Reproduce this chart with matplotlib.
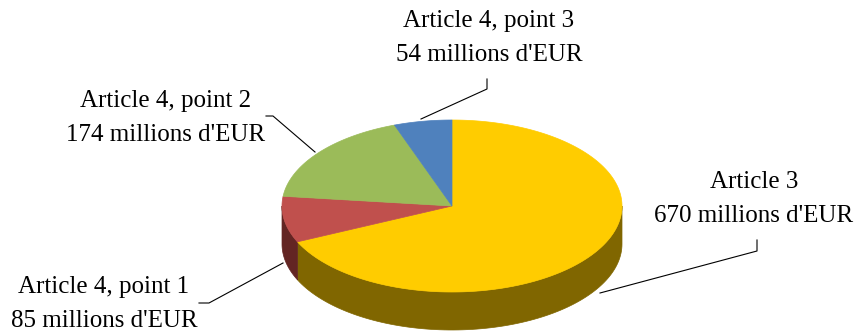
import numpy as np
import matplotlib
matplotlib.use("Agg")
import matplotlib.pyplot as plt
from matplotlib.patches import Polygon

# data
labels = ["Article 3", "Article 4, point 1", "Article 4, point 2", "Article 4, point 3"]
values = [670, 85, 174, 54]
unit = "millions d'EUR"
top_colors = ["#FFCC00", "#C0504D", "#9BBB59", "#4F81BD"]
side_colors = ["#806600", "#632523", "#4F6228", "#254061"]

# label placement (pixel coords, y down) and leader lines
label_pos = [(754, 199), (104, 304), (166, 118), (489, 38)]
leaders = [
    [(757, 240), (757, 251), (600, 293)],
    [(199, 303), (209, 303), (283, 263)],
    [(266, 116), (273, 116), (315, 152)],
    [(487, 79), (487, 89), (421, 119)],
]

# pie geometry in pixels
cx, cy = 452, 206
rx, ry = 170, 86
depth = 38

fig = plt.figure(figsize=(8.61, 3.32), dpi=100)
ax = fig.add_axes([0, 0, 1, 1])
ax.set_xlim(0, 861)
ax.set_ylim(332, 0)
ax.axis("off")


def pt(theta, dy=0):
    return cx + rx * np.cos(theta), cy - ry * np.sin(theta) + dy


# angles: start at 12 o'clock, go clockwise
fracs = np.array(values) / sum(values) * 360
starts = 90 - np.concatenate([[0], np.cumsum(fracs)[:-1]])
ends = starts - fracs

# side walls (only the front half, 180..360 deg is visible)
for s, e, c in zip(starts, ends, side_colors):
    lo, hi = e % 360, s % 360
    if hi <= lo:
        hi += 360
    segs = []
    a, b = max(lo, 180), min(hi, 360)
    if a < b:
        segs.append((a, b))
    if hi > 540:
        segs.append((540, hi))
    for a, b in segs:
        t = np.radians(np.linspace(a, b, 100))
        x, y = pt(t)
        x2, y2 = pt(t[::-1], depth)
        poly = np.column_stack([np.concatenate([x, x2]), np.concatenate([y, y2])])
        ax.add_patch(Polygon(poly, closed=True, fc=c, ec=c, lw=0.5))

# top faces
for s, e, c in zip(starts, ends, top_colors):
    t = np.radians(np.linspace(s, e, 200))
    x, y = pt(t)
    poly = np.column_stack([np.concatenate([[cx], x]), np.concatenate([[cy], y])])
    ax.add_patch(Polygon(poly, closed=True, fc=c, ec=c, lw=0.5))

# labels
for lab, v, (lx, ly), ln in zip(labels, values, label_pos, leaders):
    ax.text(lx, ly, f"{lab}\n{v} {unit}", ha="center", va="center",
            fontsize=18, family="Liberation Serif", linespacing=1.7)
    xs, ys = zip(*ln)
    ax.plot(xs, ys, color="black", lw=0.8)

fig.savefig("out.png", dpi=100)
